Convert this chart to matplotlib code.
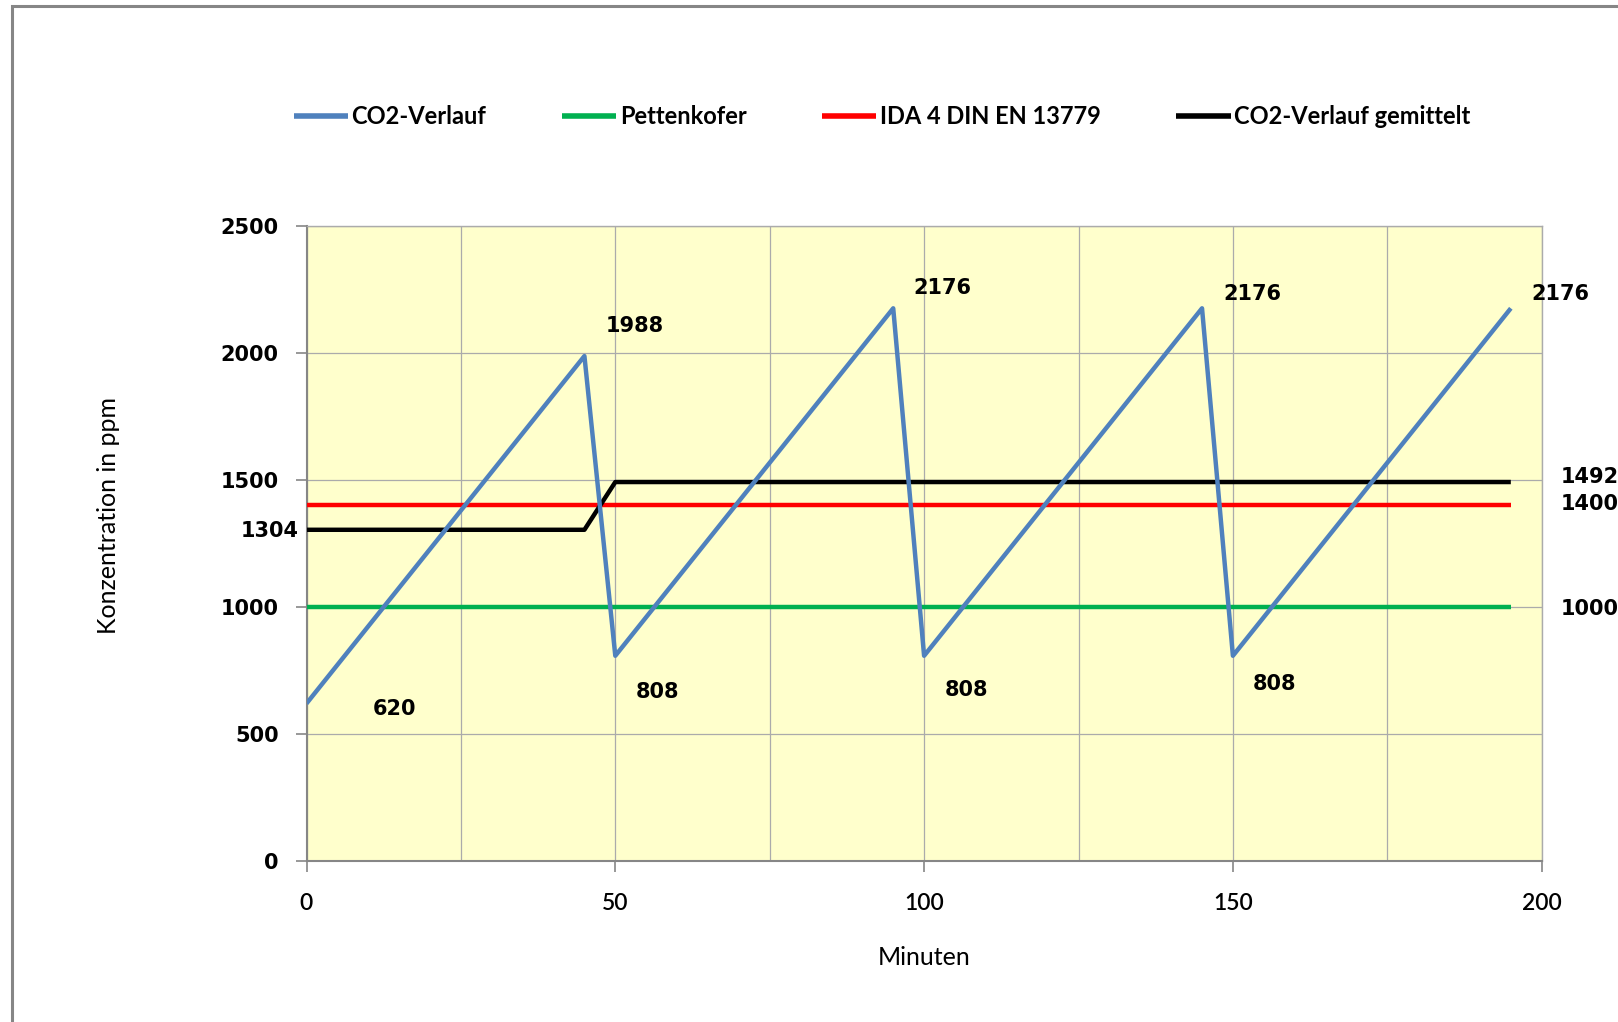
import matplotlib
matplotlib.use("Agg")
import matplotlib.pyplot as plt
from matplotlib.patches import Rectangle
from matplotlib.ticker import MultipleLocator

# ---- data ----
co2_x = [0, 45, 50, 95, 100, 145, 150, 195]
co2_y = [620, 1988, 808, 2176, 808, 2176, 808, 2176]
pett_x = [0, 195]
pett_y = [1000, 1000]
ida_x = [0, 195]
ida_y = [1400, 1400]
mean_x = [0, 45, 50, 195]
mean_y = [1304, 1304, 1492, 1492]

series_names = ["CO2-Verlauf", "Pettenkofer", "IDA 4 DIN EN 13779", "CO2-Verlauf gemittelt"]
x_ticks = [0, 50, 100, 150, 200]
y_ticks = [0, 500, 1000, 1500, 2000, 2500]

# data labels: (x, y, text)
point_labels = [(0, 620, "620"), (45, 1988, "1988"), (50, 808, "808"),
                (95, 2176, "2176"), (100, 808, "808"), (145, 2176, "2176"),
                (150, 808, "808"), (195, 2176, "2176")]
line_labels = [(0, 1304, "1304"), (195, 1492, "1492"), (195, 1400, "1400"), (195, 1000, "1000")]

# ---- style ----
C_BLUE = "#4F81BD"
C_GREEN = "#00B050"
C_RED = "#FF0000"
C_BLACK = "#000000"
BG = "#FFFFCC"
GRID = "#ABABAB"
AXC = "#868686"

W, H = 1618, 1022
DPI = 100
fig = plt.figure(figsize=(W / DPI, H / DPI), dpi=DPI)
fig.patch.set_facecolor("white")

left, right, top, bottom = 306.5, 1541.7, 226.0, 861.0
ax = fig.add_axes([left / W, 1 - bottom / H, (right - left) / W, (bottom - top) / H])
ax.set_facecolor(BG)
ax.set_xlim(0, 200)
ax.set_ylim(0, 2500)

ax.xaxis.set_major_locator(MultipleLocator(50))
ax.xaxis.set_minor_locator(MultipleLocator(25))
ax.set_xticks(x_ticks)
ax.set_yticks(y_ticks)
ax.grid(True, which="both", axis="x", color=GRID, lw=0.9, zorder=0)
ax.grid(True, which="major", axis="y", color=GRID, lw=0.9, zorder=0)
ax.set_axisbelow(True)
ax.tick_params(axis="x", which="minor", length=0)
ax.tick_params(axis="both", which="major", direction="out", length=8, width=1.2, color=AXC)
ax.tick_params(axis="y", pad=12)
ax.tick_params(axis="x", pad=15)
for lab in ax.get_yticklabels():
    lab.set_fontfamily("DejaVu Sans")
    lab.set_fontweight("bold")
    lab.set_fontsize(15)
for lab in ax.get_xticklabels():
    lab.set_fontfamily(["Lato", "DejaVu Sans"])
    lab.set_fontweight(600)
    lab.set_fontsize(16.5)

for s in ["left", "bottom"]:
    ax.spines[s].set_color(AXC)
    ax.spines[s].set_linewidth(1.5)
for s in ["top", "right"]:
    ax.spines[s].set_color(GRID)
    ax.spines[s].set_linewidth(1.0)

lw = 3.2
l1, = ax.plot(co2_x, co2_y, color=C_BLUE, lw=lw, solid_capstyle="butt", zorder=5)
l2, = ax.plot(pett_x, pett_y, color=C_GREEN, lw=lw, solid_capstyle="butt", zorder=3)
l3, = ax.plot(ida_x, ida_y, color=C_RED, lw=lw, solid_capstyle="butt", zorder=3)
l4, = ax.plot(mean_x, mean_y, color=C_BLACK, lw=lw, solid_capstyle="butt", zorder=4)

# data labels (offsets in pixels)
pt_off = [(88, -5), (50, 30), (42, -36), (49, 20), (42, -34), (50, 14), (42, -28), (50, 14)]
for (x, y, t), (dx, dy) in zip(point_labels, pt_off):
    ax.annotate(t, (x, y), xytext=(dx, dy), textcoords="offset pixels",
                ha="center", va="center", fontsize=15, fontweight="bold",
                family="DejaVu Sans", annotation_clip=False, zorder=6)

ln_off = [(-8, -1, "right"), (50, 5, "left"), (50, 1, "left"), (50, -2, "left")]
for (x, y, t), (dx, dy, ha) in zip(line_labels, ln_off):
    ax.annotate(t, (x, y), xytext=(dx, dy), textcoords="offset pixels",
                ha=ha, va="center", fontsize=15, fontweight="bold",
                family="DejaVu Sans", annotation_clip=False, zorder=6)

# axis titles
fig.text((left + right) / 2 / W, 1 - 957 / H, "Minuten", ha="center", va="center",
         fontsize=18, family=["Lato", "DejaVu Sans"])
fig.text(108 / W, 1 - 516 / H, "Konzentration in ppm", ha="center", va="center",
         rotation=90, fontsize=18, family=["Lato", "DejaVu Sans"])

# legend
leg = fig.legend([l1, l2, l3, l4], series_names, loc="center",
                 bbox_to_anchor=(882 / W, 1 - 116.5 / H), ncol=4, frameon=False,
                 handlelength=2.3, handletextpad=0.15, columnspacing=3.2,
                 prop={"family": ["Lato", "DejaVu Sans"], "weight": "bold", "size": 17})
for h in leg.get_lines():
    h.set_linewidth(4)

# outer border
fig.patches.append(Rectangle((11.5 / W, -0.05), 1.2, 1 - 6.5 / H + 0.05,
                             transform=fig.transFigure, fill=False,
                             edgecolor=AXC, lw=2.2, zorder=0))

fig.savefig("out.png", dpi=DPI)
